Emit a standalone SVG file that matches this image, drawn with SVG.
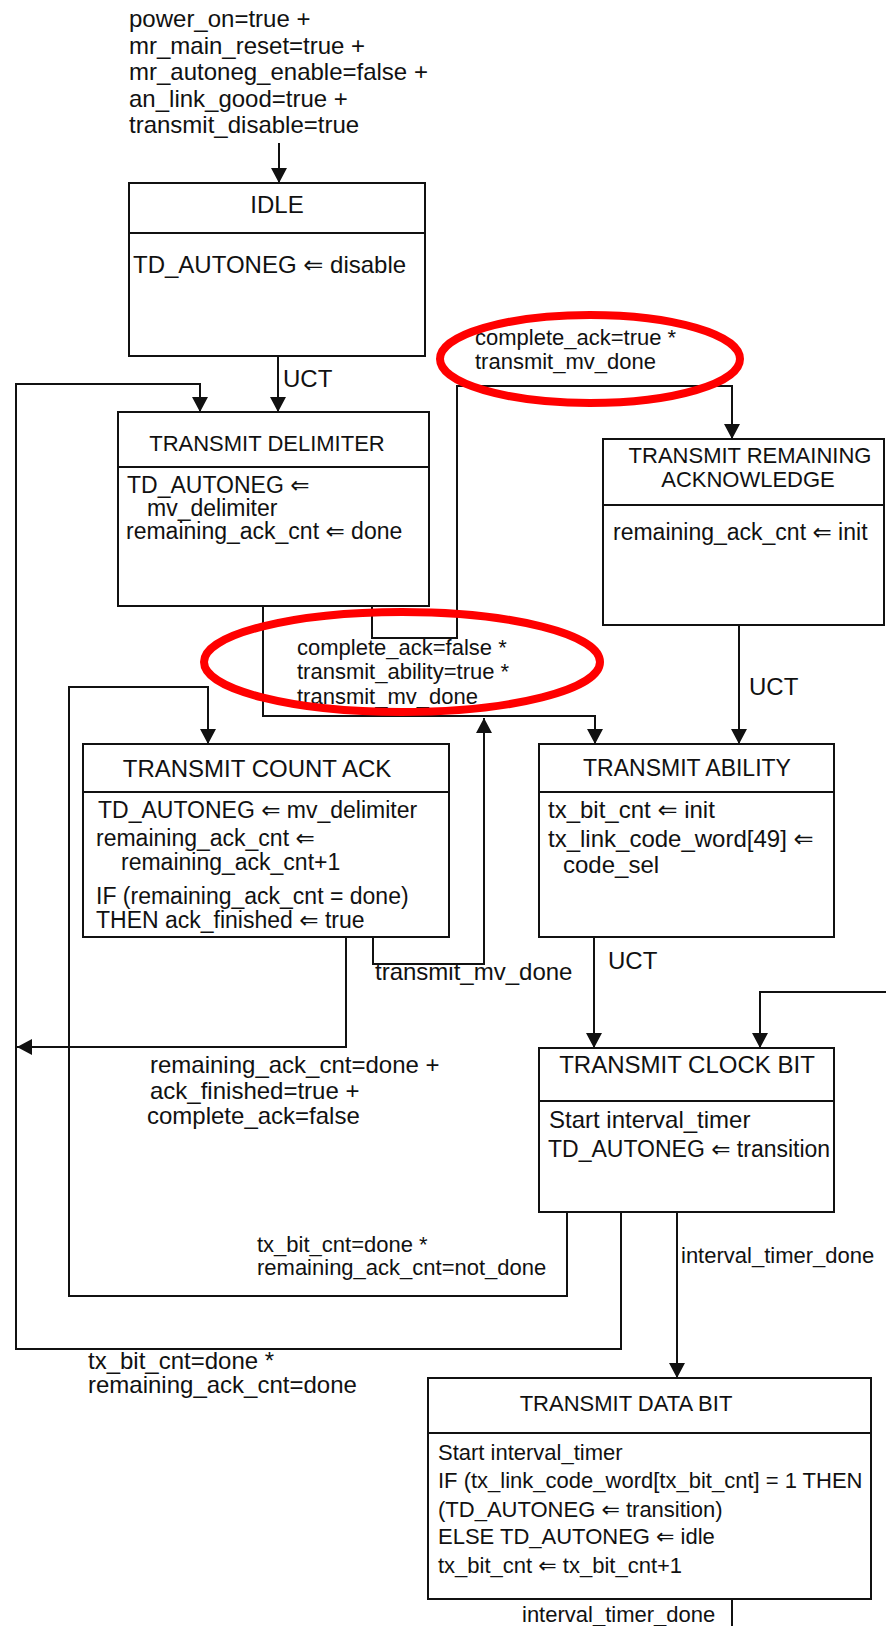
<svg xmlns="http://www.w3.org/2000/svg" width="886" height="1626" viewBox="0 0 886 1626">
<defs>
<style>
text{font-family:"Liberation Sans",Arial,"DejaVu Sans",sans-serif;fill:#111;}
.t24{font-size:24px;}
.t23{font-size:23px;}
.t22{font-size:22px;}
.mid{text-anchor:middle;}
.ar{font-family:"DejaVu Sans",sans-serif;}
.box{fill:#fff;stroke:#111;stroke-width:2;}
.sep{stroke:#111;stroke-width:2;fill:none;}
.con{fill:none;stroke:#111;stroke-width:2;}
.ell{fill:none;stroke:#ff0000;stroke-width:8;}
</style>
<marker id="ah" viewBox="0 0 15 16" refX="15" refY="8" markerWidth="15" markerHeight="16" markerUnits="userSpaceOnUse" orient="auto">
<path d="M0,0 L15,8 L0,16 z" fill="#111"/>
</marker>
</defs>
<rect width="886" height="1626" fill="#fff"/>

<g id="init-condition">
<text class="t24" x="129" y="27">power_on=true +</text>
<text class="t24" x="129" y="54">mr_main_reset=true +</text>
<text class="t24" x="129" y="80">mr_autoneg_enable=false +</text>
<text class="t24" x="129" y="107">an_link_good=true +</text>
<text class="t24" x="129" y="133">transmit_disable=true</text>
</g>

<g id="connectors">
<path class="con" d="M279,143 V183" marker-end="url(#ah)"/>
<path class="con" d="M278,356 V412" marker-end="url(#ah)"/>
<path class="con" d="M621,1212 V1349 H16 V384 H200 V412" marker-end="url(#ah)"/>
<path class="con" d="M346,937 V1047 H17" marker-end="url(#ah)"/>
<path class="con" d="M372,606 V638 H457 V386 H732 V439" marker-end="url(#ah)"/>
<path class="con" d="M263,606 V716 H595 V744" marker-end="url(#ah)"/>
<path class="con" d="M373,937 V964 H484 V718" marker-end="url(#ah)"/>
<path class="con" d="M567,1212 V1296 H69 V687 H208 V744" marker-end="url(#ah)"/>
<path class="con" d="M739,625 V744" marker-end="url(#ah)"/>
<path class="con" d="M594,937 V1048" marker-end="url(#ah)"/>
<path class="con" d="M886,992 H760 V1048" marker-end="url(#ah)"/>
<path class="con" d="M677,1212 V1378" marker-end="url(#ah)"/>
<path class="con" d="M732,1599 V1626"/>
</g>

<g id="idle">
<rect class="box" x="129" y="183" width="296" height="173"/>
<line class="sep" x1="129" y1="233" x2="425" y2="233"/>
<text class="t24 mid" x="277" y="213">IDLE</text>
<text class="t24" x="133" y="273">TD_AUTONEG <tspan class="ar">⇐</tspan> disable</text>
</g>

<g id="transmit-delimiter">
<rect class="box" x="118" y="412" width="311" height="194"/>
<line class="sep" x1="118" y1="467" x2="429" y2="467"/>
<text class="t22 mid" x="267" y="451">TRANSMIT DELIMITER</text>
<text class="t23" x="127" y="493">TD_AUTONEG <tspan class="ar">⇐</tspan></text>
<text class="t23" x="147" y="516">mv_delimiter</text>
<text class="t23" x="126" y="539">remaining_ack_cnt <tspan class="ar">⇐</tspan> done</text>
</g>

<g id="transmit-remaining-acknowledge">
<rect class="box" x="603" y="439" width="281" height="186"/>
<line class="sep" x1="603" y1="505" x2="884" y2="505"/>
<text class="t22 mid" x="750" y="463">TRANSMIT REMAINING</text>
<text class="t22 mid" x="748" y="487">ACKNOWLEDGE</text>
<text class="t23" x="613" y="540">remaining_ack_cnt <tspan class="ar">⇐</tspan> init</text>
</g>

<g id="transmit-count-ack">
<rect class="box" x="83" y="744" width="366" height="193"/>
<line class="sep" x1="83" y1="792" x2="449" y2="792"/>
<text class="t24 mid" x="257" y="777">TRANSMIT COUNT ACK</text>
<text class="t23" x="98" y="818">TD_AUTONEG <tspan class="ar">⇐</tspan> mv_delimiter</text>
<text class="t23" x="96" y="846">remaining_ack_cnt <tspan class="ar">⇐</tspan></text>
<text class="t23" x="121" y="870">remaining_ack_cnt+1</text>
<text class="t23" x="96" y="904">IF (remaining_ack_cnt = done)</text>
<text class="t23" x="96" y="928">THEN ack_finished <tspan class="ar">⇐</tspan> true</text>
</g>

<g id="transmit-ability">
<rect class="box" x="539" y="744" width="295" height="193"/>
<line class="sep" x1="539" y1="792" x2="834" y2="792"/>
<text class="t23 mid" x="687" y="776">TRANSMIT ABILITY</text>
<text class="t24" x="548" y="818">tx_bit_cnt <tspan class="ar">⇐</tspan> init</text>
<text class="t24" x="548" y="847">tx_link_code_word[49] <tspan class="ar">⇐</tspan></text>
<text class="t24" x="563" y="873">code_sel</text>
</g>

<g id="transmit-clock-bit">
<rect class="box" x="539" y="1048" width="295" height="164"/>
<line class="sep" x1="539" y1="1101" x2="834" y2="1101"/>
<text class="t24 mid" x="687" y="1073">TRANSMIT CLOCK BIT</text>
<text class="t24" x="549" y="1128">Start interval_timer</text>
<text class="t23" x="548" y="1157">TD_AUTONEG <tspan class="ar">⇐</tspan> transition</text>
</g>

<g id="transmit-data-bit">
<rect class="box" x="428" y="1378" width="443" height="221"/>
<line class="sep" x1="428" y1="1433" x2="871" y2="1433"/>
<text class="t22 mid" x="626" y="1411">TRANSMIT DATA BIT</text>
<text class="t22" x="438" y="1460">Start interval_timer</text>
<text class="t22" x="438" y="1488">IF (tx_link_code_word[tx_bit_cnt] = 1 THEN</text>
<text class="t22" x="438" y="1517">(TD_AUTONEG <tspan class="ar">⇐</tspan> transition)</text>
<text class="t22" x="438" y="1544">ELSE TD_AUTONEG <tspan class="ar">⇐</tspan> idle</text>
<text class="t22" x="438" y="1573">tx_bit_cnt <tspan class="ar">⇐</tspan> tx_bit_cnt+1</text>
</g>

<g id="labels">
<text class="t24" x="283" y="387">UCT</text>
<text class="t22" x="475" y="345">complete_ack=true *</text>
<text class="t22" x="475" y="369">transmit_mv_done</text>
<text class="t22" x="297" y="655">complete_ack=false *</text>
<text class="t22" x="297" y="679">transmit_ability=true *</text>
<text class="t22" x="297" y="704">transmit_mv_done</text>
<text class="t24" x="749" y="695">UCT</text>
<text class="t24" x="375" y="980">transmit_mv_done</text>
<text class="t24" x="608" y="969">UCT</text>
<text class="t24" x="150" y="1073">remaining_ack_cnt=done +</text>
<text class="t24" x="150" y="1099">ack_finished=true +</text>
<text class="t24" x="147" y="1124">complete_ack=false</text>
<text class="t22" x="681" y="1263">interval_timer_done</text>
<text class="t22" x="257" y="1252">tx_bit_cnt=done *</text>
<text class="t22" x="257" y="1275">remaining_ack_cnt=not_done</text>
<text class="t24" x="88" y="1369">tx_bit_cnt=done *</text>
<text class="t24" x="88" y="1393">remaining_ack_cnt=done</text>
<text class="t22" x="522" y="1622">interval_timer_done</text>
</g>

<g id="highlights">
<ellipse class="ell" cx="590" cy="359" rx="150" ry="44"/>
<ellipse class="ell" cx="402" cy="662" rx="198" ry="50"/>
</g>
</svg>
